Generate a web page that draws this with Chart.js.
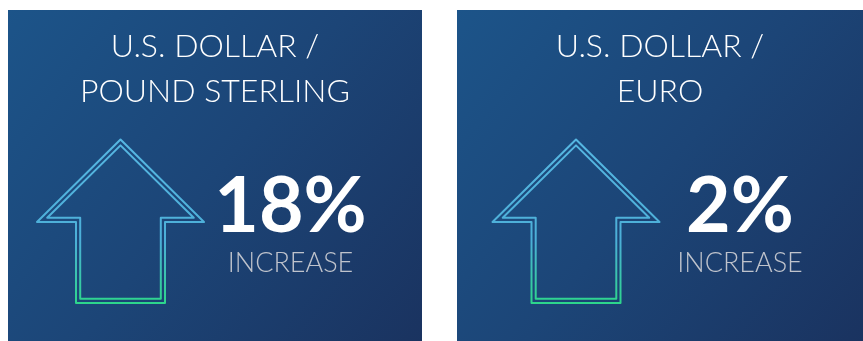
<!DOCTYPE html>
<html><head><meta charset="utf-8">
<script src="https://cdn.jsdelivr.net/npm/chart.js@4.4.1/dist/chart.umd.min.js"></script>
<style>html,body{margin:0;padding:0;background:#fff;overflow:hidden}#wrap{position:relative;width:863px;height:341px}</style>
</head><body><div id="wrap"><canvas id="c" width="863" height="341"></canvas></div>
<script>
// ---- data ----
const categories = ["U.S. DOLLAR / POUND STERLING", "U.S. DOLLAR / EURO"];
const changePct = [18, 2];
const changeLabel = ["INCREASE", "INCREASE"];

// ---- layout (not data) ----
const PANELS = [
  {x: 8,   y: 10, w: 414, h: 331, arrowX: 120.5, textX: 290.5},
  {x: 457, y: 10, w: 406, h: 331, arrowX: 576,   textX: 740}
];
const ARROW = {tipY: 139.5, headHalf: 83.5, headY: 222, shaftHalf: 44.5, bottomY: 303, gap: 4.2};

function offsetPolygon(pts, d) {
  const n = pts.length, lines = [];
  for (let i = 0; i < n; i++) {
    const a = pts[i], b = pts[(i + 1) % n];
    const dx = b[0] - a[0], dy = b[1] - a[1], L = Math.hypot(dx, dy);
    const nx = -dy / L, ny = dx / L;
    lines.push({p: [a[0] + nx * d, a[1] + ny * d], v: [dx, dy]});
  }
  const out = [];
  for (let i = 0; i < n; i++) {
    const l1 = lines[(i - 1 + n) % n], l2 = lines[i];
    const den = l1.v[0] * l2.v[1] - l1.v[1] * l2.v[0];
    const t = ((l2.p[0] - l1.p[0]) * l2.v[1] - (l2.p[1] - l1.p[1]) * l2.v[0]) / den;
    out.push([l1.p[0] + l1.v[0] * t, l1.p[1] + l1.v[1] * t]);
  }
  return out;
}

function poly(ctx, pts) {
  ctx.beginPath();
  pts.forEach((p, i) => i ? ctx.lineTo(p[0], p[1]) : ctx.moveTo(p[0], p[1]));
  ctx.closePath();
}

const infographic = {
  id: 'infographic',
  beforeDraw(chart) {
    const ctx = chart.ctx;
    ctx.save();
    ctx.fillStyle = '#ffffff';
    ctx.fillRect(0, 0, chart.width, chart.height);
    const labels = chart.data.labels;
    const vals = chart.data.datasets[0].data;
    labels.forEach((cat, i) => {
      const P = PANELS[i];
      const bg = ctx.createLinearGradient(P.x, P.y, P.x + P.w, P.y + P.h);
      bg.addColorStop(0, '#1c5489');
      bg.addColorStop(0.5, '#1c4577');
      bg.addColorStop(1, '#1a3360');
      ctx.fillStyle = bg;
      ctx.fillRect(P.x, P.y, P.w, P.h);

      // title
      const parts = cat.split(' / ');
      const lines = [parts[0] + ' /', parts[1]];
      ctx.fillStyle = '#ffffff';
      ctx.textAlign = 'center';
      ctx.textBaseline = 'alphabetic';
      ctx.font = '300 32px Lato';
      const cx = P.x + P.w / 2;
      ctx.fillText(lines[0], cx, 57);
      ctx.fillText(lines[1], cx, 102);

      // arrow
      const v = vals[i];
      const A = ARROW, ax = P.arrowX;
      const outer = [
        [ax, A.tipY], [ax + A.headHalf, A.headY], [ax + A.shaftHalf, A.headY],
        [ax + A.shaftHalf, A.bottomY], [ax - A.shaftHalf, A.bottomY],
        [ax - A.shaftHalf, A.headY], [ax - A.headHalf, A.headY]
      ];
      const inner = offsetPolygon(outer, A.gap);
      const g = ctx.createLinearGradient(0, A.tipY, 0, A.bottomY);
      g.addColorStop(0, '#56b7e2');
      g.addColorStop(0.62, '#4cafd8');
      g.addColorStop(1, '#2dd68c');
      ctx.strokeStyle = g;
      ctx.lineWidth = 2;
      ctx.lineJoin = 'round';
      poly(ctx, outer); ctx.stroke();
      poly(ctx, inner); ctx.stroke();

      // value
      ctx.fillStyle = '#ffffff';
      ctx.font = 'bold 77px Lato';
      ctx.fillText(Math.abs(v) + '%', P.textX, 232);
      ctx.fillStyle = '#bfc3cc';
      ctx.font = '300 27px Lato';
      ctx.fillText(changeLabel[i], P.textX, 272);
    });
    ctx.restore();
  }
};

new Chart(document.getElementById('c'), {
  type: 'bar',
  data: {labels: categories, datasets: [{data: changePct, backgroundColor: 'rgba(0,0,0,0)', borderWidth: 0}]},
  options: {
    responsive: false, animation: false, events: [],
    plugins: {legend: {display: false}, tooltip: {enabled: false}},
    scales: {x: {display: false}, y: {display: false, min: 0, max: 20}}
  },
  plugins: [infographic]
});
</script></body></html>
